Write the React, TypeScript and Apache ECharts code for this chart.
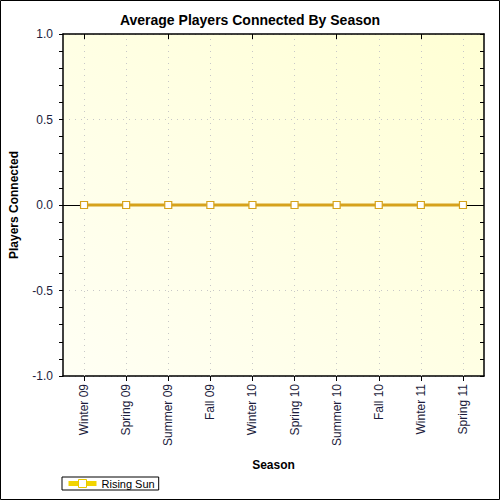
import React, { useEffect, useRef } from "react";
import * as echarts from "echarts";

const categories = ["Winter 09", "Spring 09", "Summer 09", "Fall 09", "Winter 10", "Spring 10", "Summer 10", "Fall 10", "Winter 11", "Spring 11"];
const risingSun = [0, 0, 0, 0, 0, 0, 0, 0, 0, 0];
const seriesName = "Rising Sun";
const yMin = -1;
const yMax = 1;
const yInterval = 0.5;

export default function App() {
  const ref = useRef<HTMLDivElement>(null);
  useEffect(() => {
    document.body.style.margin = "0";
    const chart = echarts.init(ref.current!, null, { renderer: "svg" });
    const font = "'Liberation Sans', Arial, sans-serif";
    const labelColor = "#1c1c3c";
    const dotted = { color: "#c8c8c8", type: [1, 5], width: 1 };
    chart.setOption({
      animation: false,
      backgroundColor: "#ffffff",
      title: {
        text: "Average Players Connected By Season",
        left: "center",
        top: 8,
        textStyle: { fontFamily: font, fontSize: 14, fontWeight: "bold", color: "#000" },
      },
      grid: {
        left: 62,
        right: 16,
        top: 34,
        bottom: 124,
        show: true,
        borderWidth: 0,
        backgroundColor: new echarts.graphic.LinearGradient(0, 1, 1, 0, [
          { offset: 0, color: "#fffff4" },
          { offset: 1, color: "#ffffd4" },
        ]),
      },
      legend: {
        left: 62,
        top: 477,
        orient: "horizontal",
        borderColor: "#000",
        borderWidth: 1,
        borderRadius: 0,
        padding: [1, 4, 1, 4],
        itemWidth: 28,
        itemHeight: 10,
        itemGap: 6,
        textStyle: { fontFamily: font, fontSize: 11, color: "#000" },
        data: [
          {
            name: seriesName,
            itemStyle: { color: "#ffffff", borderColor: "#e8c800", borderWidth: 1 },
            lineStyle: { color: "#f2d400", width: 5 },
          },
        ],
      },
      xAxis: [
        {
          type: "category",
          data: categories,
          boundaryGap: true,
          position: "bottom",
          name: "Season",
          nameLocation: "middle",
          nameGap: 83,
          nameTextStyle: { fontFamily: font, fontSize: 12, fontWeight: "bold", color: "#000" },
          axisLine: { show: true, onZero: false, lineStyle: { color: "#000", width: 1.5 } },
          axisTick: { show: true, alignWithLabel: true, length: 5, inside: false, lineStyle: { color: "#000" } },
          axisLabel: { rotate: 90, margin: 8, fontFamily: font, fontSize: 12, color: labelColor },
          splitLine: { show: false },
        },
        {
          type: "category",
          data: categories,
          boundaryGap: true,
          position: "top",
          axisLine: { show: true, onZero: false, lineStyle: { color: "#000", width: 1.5 } },
          axisTick: { show: true, alignWithLabel: true, length: 5, inside: true, lineStyle: { color: "#000" } },
          axisLabel: { show: false },
          splitLine: { show: false },
        },
      ],
      yAxis: [
        {
          type: "value",
          min: yMin,
          max: yMax,
          interval: yInterval,
          position: "left",
          name: "Players Connected",
          nameLocation: "middle",
          nameGap: 43,
          nameTextStyle: { fontFamily: font, fontSize: 12, fontWeight: "bold", color: "#000" },
          axisLine: { show: true, lineStyle: { color: "#000", width: 1.5 } },
          axisTick: { show: true, length: 4, lineStyle: { color: "#000" } },
          minorTick: { show: true, splitNumber: 5, length: 4, lineStyle: { color: "#000" } },
          axisLabel: {
            fontFamily: font,
            fontSize: 12,
            color: labelColor,
            margin: 10,
            formatter: (v: number) => v.toFixed(1),
          },
          splitLine: { show: true, lineStyle: dotted },
        },
        {
          type: "value",
          min: yMin,
          max: yMax,
          interval: yInterval,
          position: "right",
          axisLine: { show: true, lineStyle: { color: "#000", width: 1.5 } },
          axisTick: { show: true, inside: true, length: 4, lineStyle: { color: "#000" } },
          minorTick: { show: true, splitNumber: 5, length: 4, lineStyle: { color: "#000" } },
          axisLabel: { show: false },
          splitLine: { show: false },
        },
      ],
      series: [
        {
          name: seriesName,
          type: "line",
          data: risingSun,
          xAxisIndex: 0,
          yAxisIndex: 0,
          symbol: "rect",
          symbolSize: 7,
          showAllSymbol: true,
          lineStyle: { color: "#d6a21c", width: 3 },
          itemStyle: { color: "#ffffff", borderColor: "#d6a21c", borderWidth: 1.2 },
          z: 3,
          markLine: {
            silent: true,
            symbol: "none",
            label: { show: false },
            lineStyle: { color: "#000", width: 1, type: "solid" },
            data: [
              ...categories.map((c) => ({ xAxis: c, lineStyle: dotted })),
              { yAxis: 0, lineStyle: { color: "#000", width: 1, type: "solid" } },
            ],
            z: 2,
          },
        },
      ],
      graphic: [
        {
          type: "rect",
          shape: { x: 0.5, y: 0.5, width: 499, height: 499 },
          style: { fill: "none", stroke: "#000", lineWidth: 1 },
          silent: true,
        },
      ],
    });
    return () => chart.dispose();
  }, []);
  return <div ref={ref} style={{ width: 500, height: 500, position: "absolute", left: 0, top: 0 }} />;
}
